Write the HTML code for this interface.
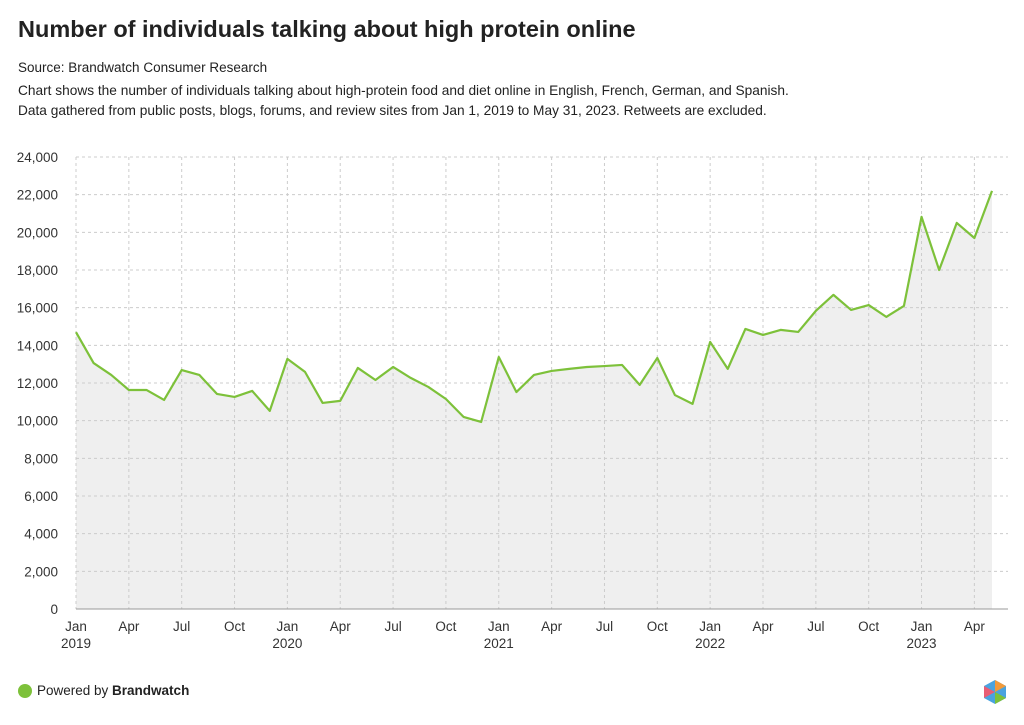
<!DOCTYPE html>
<html><head><meta charset="utf-8">
<style>
body{margin:0;background:#fff;font-family:"Liberation Sans",sans-serif;}
#wrap{position:relative;width:1024px;height:725px;overflow:hidden;}
h1{position:absolute;left:18px;top:16px;margin:0;font-size:23.5px;font-weight:600;color:#222;}
.sub{position:absolute;left:18px;font-size:13.7px;color:#222;}
</style></head><body>
<div id="wrap">
<h1>Number of individuals talking about high protein online</h1>
<div class="sub" style="top:60px;font-size:13.5px">Source: Brandwatch Consumer Research</div>
<div class="sub" style="top:83px">Chart shows the number of individuals talking about high-protein food and diet online in English, French, German, and Spanish.</div>
<div class="sub" style="top:103px">Data gathered from public posts, blogs, forums, and review sites from Jan 1, 2019 to May 31, 2023. Retweets are excluded.</div>
<svg id="chart" width="1024" height="725" style="position:absolute;left:0;top:0"></svg>
<div style="position:absolute;left:18px;top:684px;width:14px;height:14px;border-radius:50%;background:#7dc13a"></div>
<div style="position:absolute;left:37px;top:683px;font-size:13.5px;color:#222">Powered by <b>Brandwatch</b></div>
<svg style="position:absolute;left:983px;top:679px" width="24" height="26">
<polygon points="12,1 23,7 23,19 12,25 1,19 1,7" fill="#4aa3df"/>
<polygon points="12,1 23,7 12,13" fill="#f29a3a"/>
<polygon points="1,7 12,13 1,19" fill="#e85d75"/>
<polygon points="12,13 23,19 12,25" fill="#7dc13a"/>
</svg>
</div>
<script>
const values=[14700,13060,12430,11630,11630,11100,12690,12430,11420,11260,11580,10520,
13280,12590,10940,11050,12800,12160,12850,12270,11790,11150,10200,9930,
13380,11520,12430,12640,12750,12850,12900,12960,11900,13330,11360,10890,
14180,12750,14870,14550,14820,14710,15830,16680,15880,16140,15510,16090,
20820,18000,20500,19700,22200];
const yTicks=[0,2000,4000,6000,8000,10000,12000,14000,16000,18000,20000,22000,24000];
const monthLabels=["Jan","Apr","Jul","Oct"];
const years=["2019","2020","2021","2022","2023"];
const svg=document.getElementById('chart');
const NS='http://www.w3.org/2000/svg';
const x0=76,x1=992,yb=609,yt=157;
const xs=i=>x0+(x1-x0)*i/52;
const ys=v=>yb-(yb-yt)*v/24000;
function mk(t,a){const e=document.createElementNS(NS,t);for(const k in a)e.setAttribute(k,a[k]);svg.appendChild(e);return e;}
let pts=values.map((v,i)=>xs(i)+','+ys(v)).join(' ');
const area=mk('polygon',{points:xs(0)+','+yb+' '+pts+' '+xs(values.length-1)+','+yb,fill:'#efefef'});


yTicks.forEach(v=>{
  const l=mk('line',{x1:x0,x2:1008,y1:ys(v),y2:ys(v),stroke:v===0?'#999':'#ccc','stroke-dasharray':v===0?'':'3,3'});
  
  
  const t=mk('text',{x:58,y:ys(v)+5,'text-anchor':'end','font-size':13.5,fill:'#333','font-family':'Liberation Sans'});
  t.textContent=v.toLocaleString('en-US');
  
  
});
for(let i=0;i<=52;i+=3){
  const g=mk('line',{x1:xs(i),x2:xs(i),y1:yt,y2:yb,stroke:'#ccc','stroke-dasharray':'3,3'});
  
  
  const t=mk('text',{x:xs(i),y:631,'text-anchor':'middle','font-size':13.5,fill:'#333','font-family':'Liberation Sans'});
  t.textContent=monthLabels[(i/3)%4];
  
  
  if(i%12===0){
    const y=mk('text',{x:xs(i),y:648,'text-anchor':'middle','font-size':13.5,fill:'#333','font-family':'Liberation Sans'});
    y.textContent=years[i/12];
    
    
  }
}
const line=mk('polyline',{points:pts,fill:'none',stroke:'#7dc13a','stroke-width':2.2,'stroke-linejoin':'round'});


const base=mk('line',{x1:x0,x2:1008,y1:yb,y2:yb,stroke:'#999'});


</script>
</body></html>
